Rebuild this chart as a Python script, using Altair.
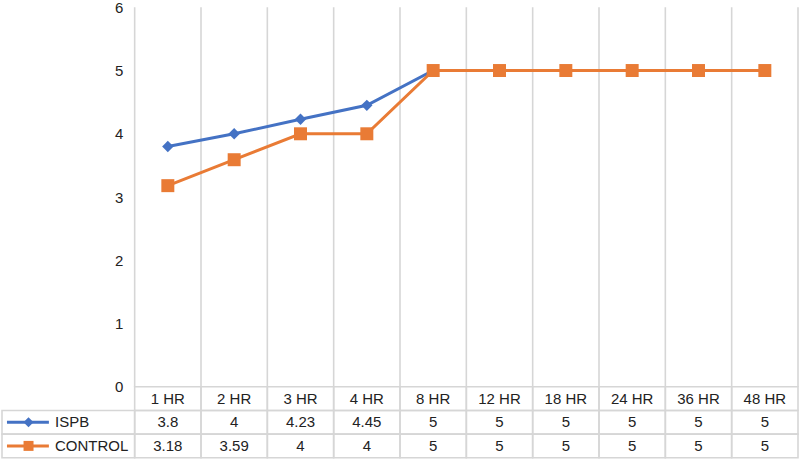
import altair as alt
import pandas as pd

# ---------------- data ----------------
categories = ["1 HR", "2 HR", "3 HR", "4 HR", "8 HR", "12 HR", "18 HR", "24 HR", "36 HR", "48 HR"]
ispb = [3.8, 4, 4.23, 4.45, 5, 5, 5, 5, 5, 5]
control = [3.18, 3.59, 4, 4, 5, 5, 5, 5, 5, 5]
series_names = ["ISPB", "CONTROL"]
y_ticks = [0, 1, 2, 3, 4, 5, 6]

# ---------------- style ----------------
BLUE = "#4472C4"
ORANGE = "#E97B35"
GRID = "#D6D6D6"
TEXT = "#222222"
FONT = "Liberation Sans"
FS = 15
n = len(categories)
W = 797
H_PLOT = 380
H_TABLE = 71

# legend-symbol layout inside the label column (x-scale units)
LEG_X0, LEG_X1, LEG_MID, LEG_TXT = -1.925, -1.293, -1.60, -1.20

xscale = alt.Scale(domain=[-2, n], nice=False, zero=False)

rows = []
for s, vals in zip(series_names, [ispb, control]):
    for i, (c, v) in enumerate(zip(categories, vals)):
        rows.append({"series": s, "cat": c, "x0": i, "x1": i + 1, "mid": i + 0.5,
                     "value": v, "label": f"{v:g}", "row": s})
df = pd.DataFrame(rows)
df_i = df[df.series == "ISPB"]
df_c = df[df.series == "CONTROL"]

grid_df = pd.DataFrame({"b": list(range(n + 1))})

# ---------------- top: line chart ----------------
yscale = alt.Scale(domain=[0, 6], nice=False, zero=True)
yaxis = alt.Axis(values=y_ticks, format="d", ticks=False, domain=False, grid=False, labelPadding=-121,
                 labelFontSize=FS, labelFont=FONT, labelColor=TEXT, title=None, labelAlign="right")

grid = alt.Chart(grid_df).mark_rule(color=GRID, strokeWidth=1.6).encode(
    x=alt.X("b:Q", scale=xscale, axis=None),
    y=alt.datum(0, scale=yscale, axis=yaxis),
    y2=alt.datum(6),
)

def line_layer(d, color):
    return alt.Chart(d).mark_line(color=color, strokeWidth=3).encode(
        x=alt.X("mid:Q", scale=xscale, axis=None),
        y=alt.Y("value:Q", scale=yscale, axis=yaxis),
    )

pts_i = alt.Chart(df_i).mark_point(shape="diamond", filled=True, size=130, color=BLUE, opacity=1).encode(
    x=alt.X("mid:Q", scale=xscale, axis=None),
    y=alt.Y("value:Q", scale=yscale, axis=yaxis),
)
pts_c = alt.Chart(df_c).mark_point(shape="square", filled=True, size=169, color=ORANGE, opacity=1).encode(
    x=alt.X("mid:Q", scale=xscale, axis=None),
    y=alt.Y("value:Q", scale=yscale, axis=yaxis),
)

top = alt.layer(grid, line_layer(df_i, BLUE), pts_i, line_layer(df_c, ORANGE), pts_c).properties(
    width=W, height=H_PLOT)

# ---------------- bottom: data table ----------------
row_domain = ["header"] + series_names
yrow = alt.Scale(domain=row_domain, paddingInner=0, paddingOuter=0)

cells = []
for i, c in enumerate(categories):
    cells.append({"x0": i, "x1": i + 1, "row": "header"})
for s in series_names:
    cells.append({"x0": -2, "x1": 0, "row": s})
    for i in range(n):
        cells.append({"x0": i, "x1": i + 1, "row": s})
cells_df = pd.DataFrame(cells)

cell_rects = alt.Chart(cells_df).mark_rect(fillOpacity=0, stroke=GRID, strokeWidth=1.6).encode(
    x=alt.X("x0:Q", scale=xscale, axis=None),
    x2="x1:Q",
    y=alt.Y("row:N", scale=yrow, axis=None),
)

header_df = pd.DataFrame({"cat": categories, "mid": [i + 0.5 for i in range(n)], "row": "header"})
header_txt = alt.Chart(header_df).mark_text(font=FONT, fontSize=FS, color=TEXT, baseline="middle").encode(
    x=alt.X("mid:Q", scale=xscale, axis=None),
    y=alt.Y("row:N", scale=yrow, axis=None),
    text="cat:N",
)

value_txt = alt.Chart(df).mark_text(font=FONT, fontSize=FS, color=TEXT, baseline="middle").encode(
    x=alt.X("mid:Q", scale=xscale, axis=None),
    y=alt.Y("row:N", scale=yrow, axis=None),
    text="label:N",
)

leg_df = pd.DataFrame({"row": series_names, "series": series_names,
                       "lx0": [LEG_X0] * 2, "lx1": [LEG_X1] * 2, "lm": [LEG_MID] * 2, "lt": [LEG_TXT] * 2})
color_scale = alt.Scale(domain=series_names, range=[BLUE, ORANGE])

leg_lines = alt.Chart(leg_df).mark_rule(strokeWidth=3).encode(
    x=alt.X("lx0:Q", scale=xscale, axis=None), x2="lx1:Q",
    y=alt.Y("row:N", scale=yrow, axis=None),
    color=alt.Color("series:N", scale=color_scale, legend=None),
)
leg_i = alt.Chart(leg_df[leg_df.series == "ISPB"]).mark_point(shape="diamond", filled=True, size=100,
                                                             color=BLUE, opacity=1).encode(
    x=alt.X("lm:Q", scale=xscale, axis=None),
    y=alt.Y("row:N", scale=yrow, axis=None),
)
leg_c = alt.Chart(leg_df[leg_df.series == "CONTROL"]).mark_point(shape="square", filled=True, size=100,
                                                                color=ORANGE, opacity=1).encode(
    x=alt.X("lm:Q", scale=xscale, axis=None),
    y=alt.Y("row:N", scale=yrow, axis=None),
)
leg_txt = alt.Chart(leg_df).mark_text(font=FONT, fontSize=FS, color=TEXT, align="left", baseline="middle").encode(
    x=alt.X("lt:Q", scale=xscale, axis=None),
    y=alt.Y("row:N", scale=yrow, axis=None),
    text="series:N",
)

bottom = alt.layer(cell_rects, header_txt, value_txt, leg_lines, leg_i, leg_c, leg_txt).properties(
    width=W, height=H_TABLE)

chart = alt.vconcat(top, bottom, spacing=0, bounds="flush").properties(
    padding={"left": 1, "top": 0, "right": 0, "bottom": 0},
    background="white",
).configure_view(strokeWidth=0)

chart.save("out.html", embed_options={"renderer": "svg", "actions": False})
